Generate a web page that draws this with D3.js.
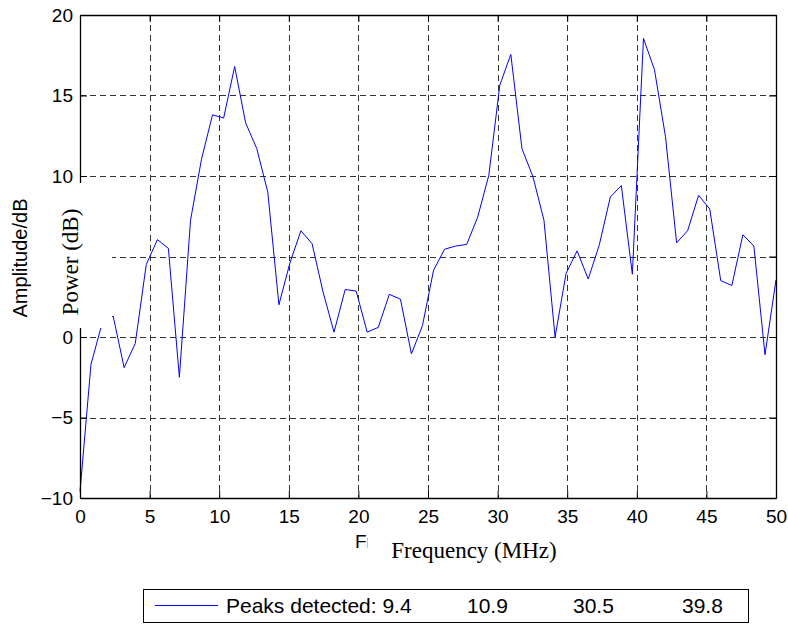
<!DOCTYPE html>
<html lang="en">
<head>
    <meta charset="UTF-8">
    <title>Power spectrum</title>
    <script src="https://d3js.org/d3.v7.min.js"></script>
    <style>
        body { margin: 0; background: #fff; }
    </style>
</head>
<body>
    <svg id="chart" width="788" height="629"></svg>

    <script>
        // frequency bins (MHz) and power (dB)
        const freq = [0, 0.79, 1.59, 2.38, 3.17, 3.97, 4.76, 5.56, 6.35, 7.14, 7.94, 8.73, 9.52, 10.32, 11.11, 11.9,
            12.7, 13.49, 14.29, 15.08, 15.87, 16.67, 17.46, 18.25, 19.05, 19.84, 20.63, 21.43, 22.22, 23.02, 23.81, 24.6,
            25.4, 26.19, 26.98, 27.78, 28.57, 29.37, 30.16, 30.95, 31.75, 32.54, 33.33, 34.13, 34.92, 35.71, 36.51, 37.3,
            38.1, 38.89, 39.68, 40.48, 41.27, 42.06, 42.86, 43.65, 44.44, 45.24, 46.03, 46.83, 47.62, 48.41, 49.21, 50];
        const power = [-9.6, -1.7, 0.85, 1.3, -1.9, -0.4, 4.5, 6.05, 5.5, -2.5, 7.25, 11.05, 13.8, 13.6, 16.8, 13.3,
            11.7, 9.0, 2.0, 4.6, 6.6, 5.8, 2.8, 0.3, 2.95, 2.85, 0.3, 0.6, 2.65, 2.35, -1.05, 0.7,
            4.15, 5.45, 5.65, 5.75, 7.45, 10.05, 15.65, 17.55, 11.7, 9.95, 7.25, 0.0, 3.95, 5.35, 3.6, 5.7,
            8.7, 9.4, 3.9, 18.55, 16.6, 12.45, 5.85, 6.6, 8.8, 7.95, 3.5, 3.2, 6.35, 5.65, -1.1, 3.55];

        const xTicks = [0, 5, 10, 15, 20, 25, 30, 35, 40, 45, 50];
        const yTicks = [-10, -5, 0, 5, 10, 15, 20];
        const peaks = ["9.4", "10.9", "30.5", "39.8"];

        const width = 788, height = 629;
        const margin = { top: 15, right: 12, bottom: 131, left: 80 };
        const sans = "Arial, 'Liberation Sans', Helvetica, sans-serif";
        const serif = "'Times New Roman', 'Liberation Serif', serif";

        const svg = d3.select("#chart");

        const x = d3.scaleLinear()
            .domain([0, 50])
            .range([margin.left, width - margin.right]);

        const y = d3.scaleLinear()
            .domain([-10, 20])
            .range([height - margin.bottom, margin.top]);

        const x0 = x(0), x1 = x(50), y0 = y(-10), y1 = y(20);

        // dashed grid
        const grid = svg.append("g")
            .attr("stroke", "#333")
            .attr("stroke-width", 1)
            .attr("stroke-dasharray", "6,4");

        grid.selectAll(".vg")
            .data(xTicks.filter(d => d > 0 && d < 50))
            .join("line")
            .attr("x1", d => Math.round(x(d)) + 0.5)
            .attr("x2", d => Math.round(x(d)) + 0.5)
            .attr("y1", y1)
            .attr("y2", y0);

        grid.selectAll(".hg")
            .data(yTicks.filter(d => d > -10 && d < 20))
            .join("line")
            .attr("x1", x0)
            .attr("x2", x1)
            .attr("y1", d => Math.round(y(d)) + 0.5)
            .attr("y2", d => Math.round(y(d)) + 0.5);

        // spectrum
        const line = d3.line()
            .x((d, i) => x(freq[i]))
            .y(d => y(d));

        svg.append("path")
            .datum(power)
            .attr("fill", "none")
            .attr("stroke", "#0000ff")
            .attr("stroke-width", 1)
            .attr("d", line);

        // axes, ticks pointing inward on all four sides
        const tickLen = 7;
        const axBottom = svg.append("g")
            .attr("transform", `translate(0,${y0})`)
            .call(d3.axisBottom(x).tickValues(xTicks).tickSize(-tickLen).tickSizeOuter(0).tickPadding(12));
        const axTop = svg.append("g")
            .attr("transform", `translate(0,${y1})`)
            .call(d3.axisTop(x).tickValues(xTicks).tickSize(-tickLen).tickSizeOuter(0).tickFormat(""));
        const axLeft = svg.append("g")
            .attr("transform", `translate(${x0},0)`)
            .call(d3.axisLeft(y).tickValues(yTicks).tickSize(-tickLen).tickSizeOuter(0).tickPadding(7));
        const axRight = svg.append("g")
            .attr("transform", `translate(${x1},0)`)
            .call(d3.axisRight(y).tickValues(yTicks).tickSize(-tickLen).tickSizeOuter(0).tickFormat(""));

        [axBottom, axTop, axLeft, axRight].forEach(g => {
            g.select(".domain").attr("stroke", "#000").attr("stroke-width", 1.3);
            g.selectAll(".tick line").attr("stroke", "#000");
            g.selectAll("text")
                .attr("fill", "#000")
                .style("font-family", sans)
                .style("font-size", "19px");
        });

        // axis labels
        svg.append("text")
            .attr("transform", "translate(27,258) rotate(-90)")
            .attr("text-anchor", "middle")
            .style("font-family", sans)
            .style("font-size", "20px")
            .text("Amplitude/dB");

        // the old sans x label, mostly covered: only its first letters show
        svg.append("clipPath")
            .attr("id", "xlabClip")
            .append("rect")
            .attr("x", 340).attr("y", 525)
            .attr("width", 28).attr("height", 30);

        svg.append("text")
            .attr("x", 355)
            .attr("y", 548)
            .attr("clip-path", "url(#xlabClip)")
            .style("font-family", sans)
            .style("font-size", "19px")
            .text("Fr");

        // white box behind the serif y label
        svg.append("rect")
            .attr("x", 40).attr("y", 183)
            .attr("width", 72).attr("height", 145)
            .attr("fill", "#fff");

        svg.append("text")
            .attr("transform", "translate(78,262) rotate(-90)")
            .attr("text-anchor", "middle")
            .style("font-family", serif)
            .style("font-size", "23px")
            .text("Power (dB)");

        svg.append("text")
            .attr("x", 474)
            .attr("y", 558)
            .attr("text-anchor", "middle")
            .style("font-family", serif)
            .style("font-size", "23px")
            .text("Frequency (MHz)");

        // legend
        const legend = svg.append("g");
        legend.append("rect")
            .attr("x", 143.5).attr("y", 589.5)
            .attr("width", 605).attr("height", 33)
            .attr("fill", "#fff")
            .attr("stroke", "#000")
            .attr("stroke-width", 1);

        legend.append("line")
            .attr("x1", 155).attr("x2", 218)
            .attr("y1", 605.5).attr("y2", 605.5)
            .attr("stroke", "#0000ff");

        const peakX = [226, 467, 573, 682];
        legend.selectAll(".peak")
            .data(peaks)
            .join("text")
            .attr("x", (d, i) => peakX[i])
            .attr("y", 613)
            .style("font-family", sans)
            .style("font-size", "21px")
            .text((d, i) => i === 0 ? "Peaks detected: " + d : d);
    </script>
</body>
</html>
